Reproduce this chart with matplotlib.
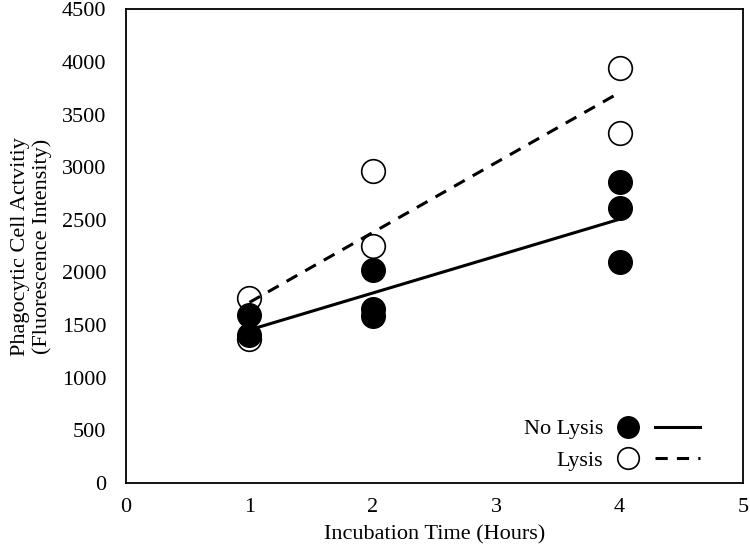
import numpy as np
import matplotlib.pyplot as plt
from matplotlib.lines import Line2D
from matplotlib.legend_handler import HandlerTuple

plt.rcParams['font.family'] = ['Liberation Serif', 'DejaVu Serif']

# datos
t_no_lysis = [1, 1, 2, 2, 2, 4, 4, 4]
y_no_lysis = [1600, 1410, 2020, 1650, 1590, 2860, 2610, 2100]
t_lysis = [1, 1, 2, 2, 4, 4]
y_lysis = [1760, 1370, 2960, 2250, 3940, 3330]

xticks = [0, 1, 2, 3, 4, 5]
yticks = list(range(0, 4501, 500))

fs = 16

fig = plt.figure(figsize=(7.5, 5.55), dpi=100)
ax = fig.add_axes([0.168, 0.13, 0.8227, 0.853])

ms = 17
# puntos
ax.plot(t_lysis, y_lysis, 'o', ms=ms, mfc='white', mec='black', mew=1.2, zorder=3)
ax.plot(t_no_lysis, y_no_lysis, 'o', ms=ms, mfc='black', mec='black', zorder=4)

# lineas de tendencia
xx = np.array([1, 4])
m1, b1 = np.polyfit(t_no_lysis, y_no_lysis, 1)
m2, b2 = np.polyfit(t_lysis, y_lysis, 1)
ax.plot(xx, m1 * xx + b1, '-', color='black', lw=2.2, zorder=5)
ax.plot(xx, m2 * xx + b2, '--', color='black', lw=2.2, dashes=(4, 3), zorder=5)

ax.set_xlim(0, 5)
ax.set_ylim(0, 4500)
ax.set_xticks(xticks)
ax.set_yticks(yticks)
ax.tick_params(length=0, labelsize=fs)
ax.tick_params(axis='x', pad=11)
ax.tick_params(axis='y', pad=14)
for s in ax.spines.values():
    s.set_linewidth(1.3)

ax.set_xlabel('Incubation Time (Hours)', fontsize=fs, labelpad=6)
ax.set_ylabel('Phagocytic Cell Actvitiy\n(Fluorescence Intensity)', fontsize=fs,
              labelpad=7, linespacing=1.15)

# leyenda
h1 = (Line2D([], [], ls='none', marker='o', ms=15.5, mfc='black', mec='black'),
      Line2D([], [], ls='-', color='black', lw=2.2))
h2 = (Line2D([], [], ls='none', marker='o', ms=15.5, mfc='white', mec='black', mew=1.2),
      Line2D([], [], ls='--', color='black', lw=2.2, dashes=(4, 3)))
ax.legend([h1, h2], ['No Lysis', 'Lysis'], loc='lower right',
          bbox_to_anchor=(0.93, 0.025), frameon=False, markerfirst=False,
          handler_map={tuple: HandlerTuple(ndivide=None, pad=0.2)},
          handlelength=4.25, handletextpad=0.1, labelspacing=0.5,
          borderpad=0, borderaxespad=0, fontsize=fs)

fig.savefig('out.png', dpi=100)
